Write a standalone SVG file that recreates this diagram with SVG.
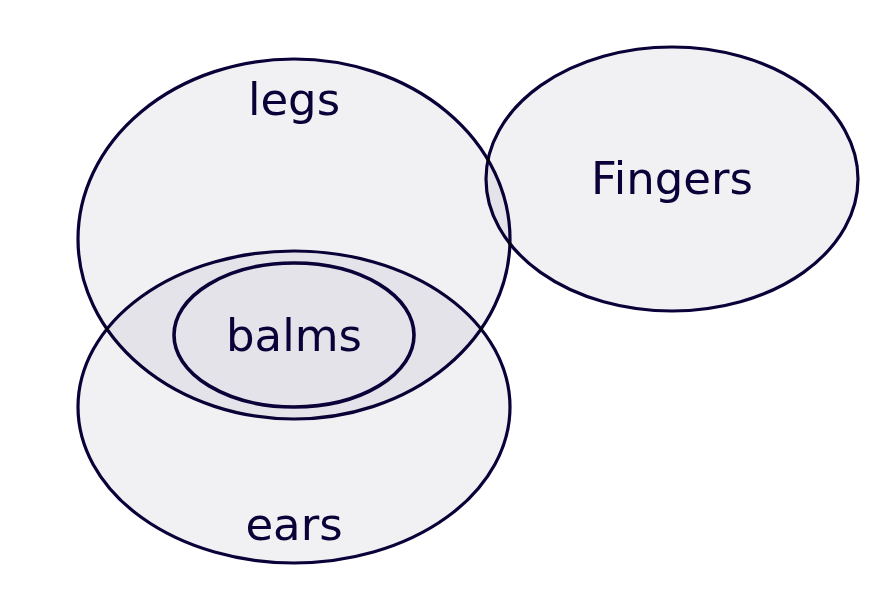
<svg xmlns="http://www.w3.org/2000/svg" width="888" height="591" viewBox="0 0 888 591">
<style>
.set{fill:#f1f1f4;stroke:#0b0038;stroke-width:3.2;mix-blend-mode:multiply}
.inner{fill:none;stroke:#0b0038;stroke-width:3.6}
.lbl{font-family:"DejaVu Sans",sans-serif;font-size:45px;fill:#0b0038;text-anchor:middle}
</style>
<rect width="888" height="591" fill="#ffffff"/>
<g id="legs"><ellipse class="set" cx="294" cy="239" rx="216" ry="180"/><text class="lbl" x="294" y="115">legs</text></g>
<g id="ears"><ellipse class="set" cx="294" cy="407" rx="216" ry="156"/><text class="lbl" x="294" y="540">ears</text></g>
<g id="Fingers"><ellipse class="set" cx="672" cy="179" rx="186" ry="132"/><text class="lbl" x="672" y="194">Fingers</text></g>
<g id="balms"><ellipse class="inner" cx="294" cy="335" rx="120" ry="72"/><text class="lbl" x="294" y="351">balms</text></g>
<g id="connectors"></g>
</svg>
